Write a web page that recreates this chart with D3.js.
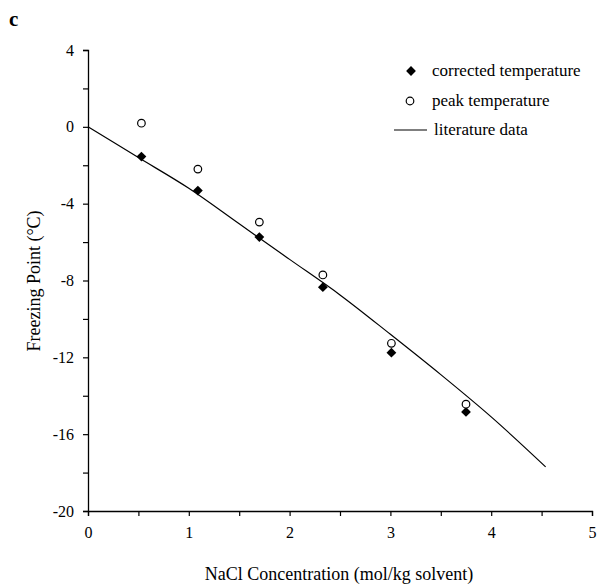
<!DOCTYPE html>
<html><head><meta charset="utf-8">
<script src="https://cdn.jsdelivr.net/npm/d3@7"></script>
<style>body{margin:0;background:#fff}svg{display:block}text{font-family:"Liberation Serif","Times New Roman",serif;fill:#000}</style>
</head><body>
<script>
const concX = [0.53, 1.09, 1.70, 2.33, 3.01, 3.75];
const correctedY = [-1.55, -3.32, -5.74, -8.35, -11.76, -14.84];
const peakY = [0.19, -2.20, -4.96, -7.71, -11.27, -14.44];
const litX = [0, 0.5, 1, 1.5, 2, 2.5, 3, 3.5, 4, 4.54];
const litY = [0, -1.6, -3.2, -5.05, -6.9, -8.75, -10.8, -12.9, -15.1, -17.7];
const xTicks = [0, 1, 2, 3, 4, 5];
const yTicks = [4, 0, -4, -8, -12, -16, -20];
const legendLabels = ["corrected temperature", "peak temperature", "literature data"];

const W = 605, H = 587;
const svg = d3.select("body").append("svg").attr("width", W).attr("height", H);
const x = d3.scaleLinear().domain([0, 5]).range([88, 592]);
const y = d3.scaleLinear().domain([-20, 4]).range([511, 50]);

svg.append("text").attr("x", 9).attr("y", 26).style("font-weight", "bold").style("font-size", "21px").text("c");

const xAxis = svg.append("g").attr("transform", `translate(0,${y(-20)})`)
  .call(d3.axisBottom(x).tickValues(d3.range(0, 5.01, 0.5)).tickSize(5).tickFormat(d => xTicks.includes(d) ? d : ""));
const yAxis = svg.append("g").attr("transform", `translate(${x(0)},0)`)
  .call(d3.axisLeft(y).tickValues(d3.range(-20, 4.01, 2)).tickSize(5).tickFormat(d => yTicks.includes(d) ? d : ""));
[xAxis, yAxis].forEach(g => {
  g.select(".domain").attr("stroke", "#000").attr("stroke-width", 1.3);
  g.selectAll(".tick line").attr("stroke", "#000").attr("stroke-width", 1.2);
  g.selectAll("text").style("font-family", '"Liberation Serif",serif').style("font-size", "16px").attr("fill", "#000");
});
xAxis.selectAll("text").attr("dy", "1.2em");
yAxis.selectAll("text").attr("x", -14);

svg.append("text").attr("x", 339).attr("y", 580).attr("text-anchor", "middle").style("font-size", "18px")
  .text("NaCl Concentration (mol/kg solvent)");
svg.append("text").attr("transform", "translate(40,281) rotate(-90)").attr("text-anchor", "middle").style("font-size", "18px")
  .text("Freezing Point (°C)");

const lit = litX.map((v, i) => [v, litY[i]]);
svg.append("path").datum(lit).attr("fill", "none").attr("stroke", "#000").attr("stroke-width", 1.2)
  .attr("d", d3.line().x(d => x(d[0])).y(d => y(d[1])).curve(d3.curveMonotoneX));

const diamond = d3.symbol().type(d3.symbolSquare).size(48);
svg.append("g").selectAll("path").data(concX.map((v, i) => [v, correctedY[i]])).join("path")
  .attr("transform", d => `translate(${x(d[0])},${y(d[1])}) rotate(45)`).attr("d", diamond).attr("fill", "#000");
svg.append("g").selectAll("circle").data(concX.map((v, i) => [v, peakY[i]])).join("circle")
  .attr("cx", d => x(d[0])).attr("cy", d => y(d[1])).attr("r", 3.8)
  .attr("fill", "#fff").attr("stroke", "#000").attr("stroke-width", 1.2);

// legend
const lg = svg.append("g");
lg.append("path").attr("transform", "translate(411,71) rotate(45)").attr("d", diamond).attr("fill", "#000");
lg.append("circle").attr("cx", 410).attr("cy", 101).attr("r", 3.8).attr("fill", "#fff").attr("stroke", "#000").attr("stroke-width", 1.2);
lg.append("line").attr("x1", 394).attr("x2", 427).attr("y1", 130).attr("y2", 130).attr("stroke", "#000").attr("stroke-width", 1.2);
const lx = [432, 432, 434], ly = [76, 106, 135];
legendLabels.forEach((t, i) => lg.append("text").attr("x", lx[i]).attr("y", ly[i]).style("font-size", "17px").text(t));
</script>
</body></html>
